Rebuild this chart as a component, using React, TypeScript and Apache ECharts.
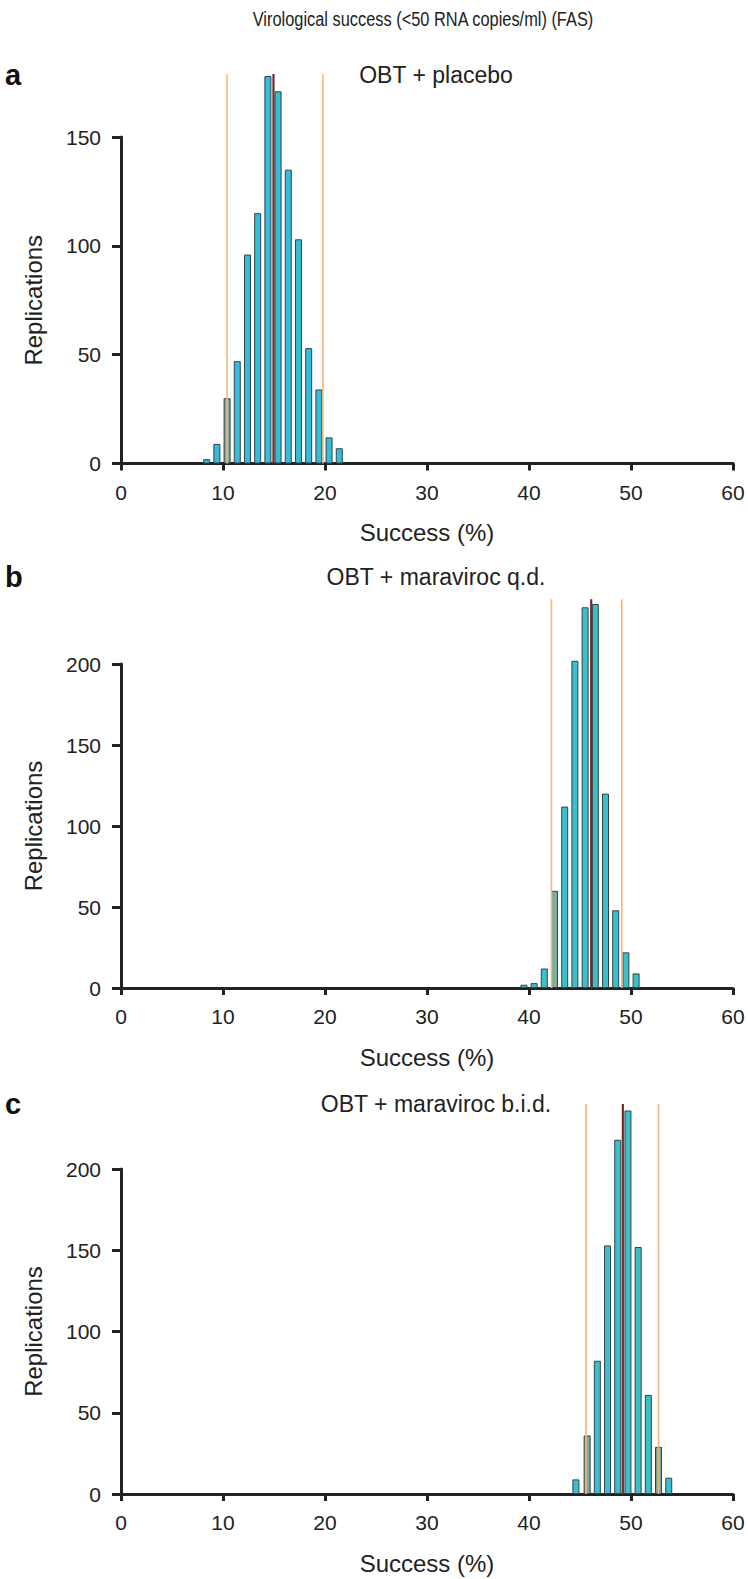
import React, { useEffect, useRef } from "react";
import * as echarts from "echarts";

// ---------- data ----------
const chartTitle = "Virological success (<50 RNA copies/ml) (FAS)";
const panelLetters = ["a", "b", "c"];
const panelTitles = ["OBT + placebo", "OBT + maraviroc q.d.", "OBT + maraviroc b.i.d."];
const xAxisName = "Success (%)";
const yAxisName = "Replications";
const xMin = 0;
const xMax = 60;
const xInterval = 10;
const yMaxes = [150, 200, 200];
const yInterval = 50;

const placeboBins = [8.4, 9.4, 10.4, 11.4, 12.4, 13.4, 14.4, 15.4, 16.4, 17.4, 18.4, 19.4, 20.4, 21.4];
const placeboCounts = [2, 9, 30, 47, 96, 115, 178, 171, 135, 103, 53, 34, 12, 7];
const qdBins = [39.5, 40.5, 41.5, 42.5, 43.5, 44.5, 45.5, 46.5, 47.5, 48.5, 49.5, 50.5];
const qdCounts = [2, 3, 12, 60, 112, 202, 235, 237, 120, 48, 22, 9];
const bidBins = [44.6, 45.7, 46.7, 47.7, 48.7, 49.7, 50.7, 51.7, 52.7, 53.7];
const bidCounts = [9, 36, 82, 153, 218, 236, 152, 61, 29, 10];

const means = [14.95, 46.1, 49.2];
const ciLower = [10.4, 42.2, 45.6];
const ciUpper = [19.8, 49.1, 52.7];
const refLineTops = [179, 240, 240];

const panelBins = [placeboBins, qdBins, bidBins];
const panelCounts = [placeboCounts, qdCounts, bidCounts];

// ---------- layout / style ----------
const W = 748;
const H = 1579;
const gridLeft = 121;
const gridWidth = 612;
const gridTops = [137, 664, 1169];
const gridHeights = [326.5, 324, 325];
const letterY = [75, 577, 1104];
const subtitleY = [75, 577, 1104];
const FONT = "'Liberation Sans', Arial, Helvetica, sans-serif";
const TXT = "#222";
const barColors = ["#34bcd8", "#3bbfca", "#3bbfca"];
const tintColor = "#7aab9c";
const barHalfWidthUnits = 0.35;

export default function App() {
  const ref = useRef<HTMLDivElement>(null);

  useEffect(() => {
    if (!ref.current) return;
    const chart = echarts.init(ref.current, undefined, { renderer: "svg" });

    const grids: any[] = [];
    const xAxes: any[] = [];
    const yAxes: any[] = [];
    const series: any[] = [];
    const graphics: any[] = [];

    graphics.push({
      type: "text",
      x: 423,
      y: 19,
      scaleX: 0.78,
      style: {
        text: chartTitle,
        font: `21px ${FONT}`,
        fill: TXT,
        textAlign: "center",
        textVerticalAlign: "middle",
      },
    });

    for (let i = 0; i < 3; i++) {
      grids.push({ left: gridLeft, width: gridWidth, top: gridTops[i], height: gridHeights[i], containLabel: false });
      xAxes.push({
        type: "value",
        gridIndex: i,
        min: xMin,
        max: xMax,
        interval: xInterval,
        name: xAxisName,
        nameLocation: "middle",
        nameGap: 57,
        nameTextStyle: { fontSize: 24, color: TXT, fontFamily: FONT },
        axisLine: { show: true, lineStyle: { color: TXT, width: 3 } },
        axisTick: { show: true, length: 7, lineStyle: { color: TXT, width: 3 } },
        axisLabel: { fontSize: 21, color: TXT, fontFamily: FONT, margin: 18 },
        splitLine: { show: false },
      });
      yAxes.push({
        type: "value",
        gridIndex: i,
        min: 0,
        max: yMaxes[i],
        interval: yInterval,
        name: yAxisName,
        nameLocation: "middle",
        nameGap: 76,
        nameRotate: 90,
        nameTextStyle: { fontSize: 24, color: TXT, fontFamily: FONT },
        axisLine: { show: true, onZero: false, lineStyle: { color: TXT, width: 3 } },
        axisTick: { show: true, length: 9, lineStyle: { color: TXT, width: 3 } },
        axisLabel: { fontSize: 21, color: TXT, fontFamily: FONT, margin: 20 },
        splitLine: { show: false },
      });

      const bins = panelBins[i];
      const counts = panelCounts[i];
      series.push({
        type: "bar",
        xAxisIndex: i,
        yAxisIndex: i,
        clip: false,
        barWidth: 7,
        z: 2,
        data: bins.map((b, k) => {
          const crossed =
            (ciLower[i] > b - barHalfWidthUnits && ciLower[i] < b + barHalfWidthUnits) ||
            (ciUpper[i] > b - barHalfWidthUnits && ciUpper[i] < b + barHalfWidthUnits);
          return {
            value: [b, counts[k]],
            itemStyle: { color: crossed ? tintColor : barColors[i] },
          };
        }),
        itemStyle: { borderColor: "#34434a", borderWidth: 1 },
      });

      const refLines = [
        { x: ciLower[i], color: "#f7b77c", width: 1.6 },
        { x: ciUpper[i], color: "#f7b77c", width: 1.6 },
        { x: means[i], color: "#6e2e26", width: 2.2 },
      ];
      refLines.forEach((l) => {
        series.push({
          type: "line",
          xAxisIndex: i,
          yAxisIndex: i,
          clip: false,
          symbol: "none",
          z: 5,
          lineStyle: { color: l.color, width: l.width },
          data: [
            [l.x, 0],
            [l.x, refLineTops[i]],
          ],
        });
      });

      graphics.push({
        type: "text",
        x: 5,
        y: letterY[i],
        style: {
          text: panelLetters[i],
          font: `bold 29px ${FONT}`,
          fill: "#111",
          textAlign: "left",
          textVerticalAlign: "middle",
        },
      });
      graphics.push({
        type: "text",
        x: 436,
        y: subtitleY[i],
        style: {
          text: panelTitles[i],
          font: `23px ${FONT}`,
          fill: TXT,
          textAlign: "center",
          textVerticalAlign: "middle",
        },
      });
    }

    chart.setOption({
      animation: false,
      backgroundColor: "#ffffff",
      grid: grids,
      xAxis: xAxes,
      yAxis: yAxes,
      series,
      graphic: graphics,
    });

    return () => chart.dispose();
  }, []);

  return (
    <div
      ref={ref}
      style={{ position: "absolute", left: 0, top: 0, width: W, height: H }}
    />
  );
}
